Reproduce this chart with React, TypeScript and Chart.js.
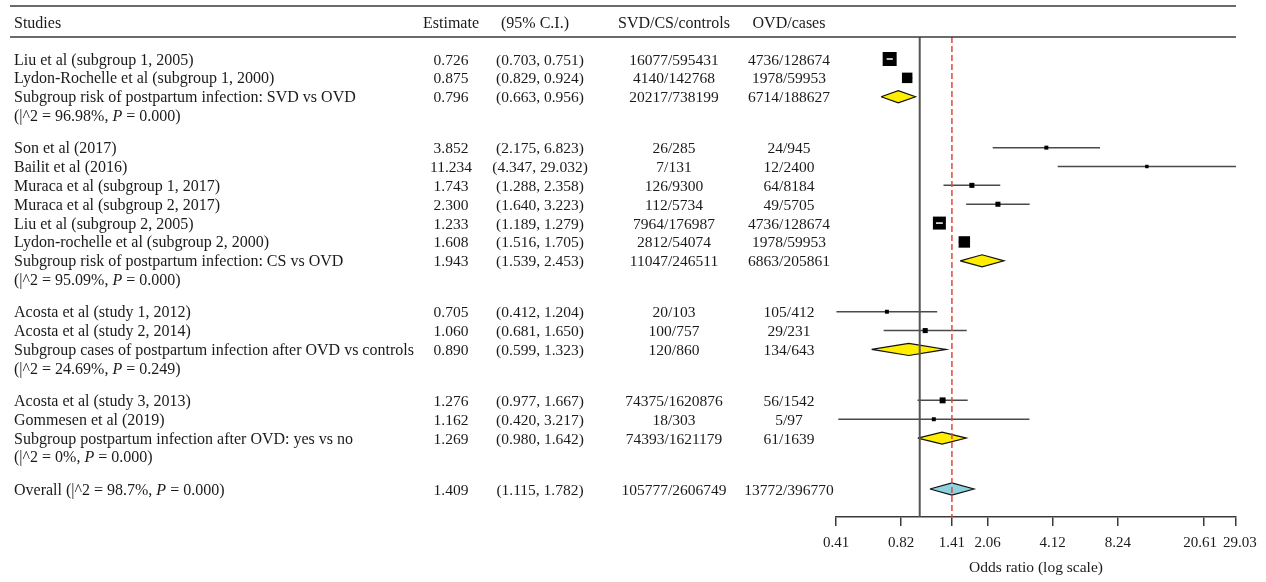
import React, { useEffect, useRef } from 'react';
import { Chart, registerables } from 'chart.js';

Chart.register(...registerables);

// ---------- data ----------
const studyLabels = [
  'Liu et al (subgroup 1, 2005)',
  'Lydon-Rochelle et al (subgroup 1, 2000)',
  'Son et al (2017)',
  'Bailit et al (2016)',
  'Muraca et al (subgroup 1, 2017)',
  'Muraca et al (subgroup 2, 2017)',
  'Liu et al (subgroup 2, 2005)',
  'Lydon-rochelle et al (subgroup 2, 2000)',
  'Acosta et al (study 1, 2012)',
  'Acosta et al (study 2, 2014)',
  'Acosta et al (study 3, 2013)',
  'Gommesen et al (2019)',
];
const studyGroup = [0, 0, 1, 1, 1, 1, 1, 1, 2, 2, 3, 3];
const estimates = [0.726, 0.875, 3.852, 11.234, 1.743, 2.3, 1.233, 1.608, 0.705, 1.06, 1.276, 1.162];
const ciLow = [0.703, 0.829, 2.175, 4.347, 1.288, 1.64, 1.189, 1.516, 0.412, 0.681, 0.977, 0.42];
const ciHigh = [0.751, 0.924, 6.823, 29.032, 2.358, 3.223, 1.279, 1.705, 1.204, 1.65, 1.667, 3.217];
const svdCounts = ['16077/595431', '4140/142768', '26/285', '7/131', '126/9300', '112/5734', '7964/176987', '2812/54074', '20/103', '100/757', '74375/1620876', '18/303'];
const ovdCounts = ['4736/128674', '1978/59953', '24/945', '12/2400', '64/8184', '49/5705', '4736/128674', '1978/59953', '105/412', '29/231', '56/1542', '5/97'];
const boxWeights = [100, 56, 8, 6, 13, 13, 86, 67, 8, 13, 18, 8];

const subgroupLabels = [
  'Subgroup risk of postpartum infection: SVD vs OVD',
  'Subgroup risk of postpartum infection: CS vs OVD',
  'Subgroup cases of postpartum infection after OVD vs controls',
  'Subgroup postpartum infection after OVD: yes vs no',
];
const subgroupEst = [0.796, 1.943, 0.89, 1.269];
const subgroupLow = [0.663, 1.539, 0.599, 0.98];
const subgroupHigh = [0.956, 2.453, 1.323, 1.642];
const subgroupSvd = ['20217/738199', '11047/246511', '120/860', '74393/1621179'];
const subgroupOvd = ['6714/188627', '6863/205861', '134/643', '61/1639'];
const subgroupI2 = ['96.98%', '95.09%', '24.69%', '0%'];
const subgroupP = ['0.000', '0.000', '0.249', '0.000'];

const overallLabel = 'Overall';
const overallEst = 1.409;
const overallLow = 1.115;
const overallHigh = 1.782;
const overallSvd = '105777/2606749';
const overallOvd = '13772/396770';
const overallI2 = '98.7%';
const overallP = '0.000';

const headers = ['Studies', 'Estimate', '(95% C.I.)', 'SVD/CS/controls', 'OVD/cases'];
const tickValues = [0.41, 0.82, 1.41, 2.06, 4.12, 8.24, 20.61, 29.03];
const tickLabels = ['0.41', '0.82', '1.41', '2.06', '4.12', '8.24', '20.61', '29.03'];
const axisTitle = 'Odds ratio (log scale)';

// ---------- style / layout ----------
const FONT = "'Liberation Serif', 'Times New Roman', serif";
const FS_TEXT = 16;
const FS_NUM = 15.5;
const TEXT_COLOR = '#1a1a1a';
const W = 1266;
const H = 582;
const GROUP_GAP = 2.7;
const Y_MIN = -1.1665;
const Y_MAX = 24.284;
const DIAMOND_H = 0.32;
const BOX_SCALE = 1.4;
const COL_LEFT = 14;
const COL_EST = 451;
const COL_CI = 540;
const COL_CI_HEAD = 535;
const COL_SVD = 674;
const COL_OVD = 789;
const EN = '\u2002';

export default function App() {
  const ref = useRef<HTMLCanvasElement>(null);

  useEffect(() => {
    const canvas = ref.current;
    if (!canvas) return;

    // row positions (in row units)
    const studyY: number[] = [];
    const subgroupY: number[] = [];
    let y = 0;
    for (let g = 0; g < subgroupLabels.length; g++) {
      studyGroup.forEach((sg, i) => {
        if (sg === g) {
          studyY[i] = y;
          y += 1;
        }
      });
      subgroupY[g] = y;
      y += GROUP_GAP;
    }
    const overallY = y;

    const ciData: any[] = [];
    estimates.forEach((_, i) => {
      ciData.push({ x: ciLow[i], y: studyY[i] }, { x: ciHigh[i], y: studyY[i] }, { x: ciHigh[i], y: null });
    });

    const diamond = (lo: number, est: number, hi: number, yy: number) => [
      { x: lo, y: yy },
      { x: est, y: yy - DIAMOND_H },
      { x: hi, y: yy },
      { x: est, y: yy + DIAMOND_H },
      { x: lo, y: yy },
    ];

    const boxSide = (w: number) => BOX_SCALE * Math.sqrt(w);

    const datasets: any[] = [
      {
        type: 'line',
        order: 0,
        data: [{ x: 1, y: Y_MIN }, { x: 1, y: Y_MAX }],
        borderColor: '#555555',
        borderWidth: 2,
        pointRadius: 0,
        fill: false,
      },
      {
        type: 'line',
        order: 0,
        data: [{ x: overallEst, y: Y_MIN }, { x: overallEst, y: Y_MAX }],
        borderColor: '#e8453c',
        borderWidth: 1.5,
        borderDash: [6, 3],
        pointRadius: 0,
        fill: false,
      },
      {
        type: 'scatter',
        order: 1,
        data: estimates.map((e, i) => ({ x: e, y: studyY[i] })),
        pointStyle: 'rect',
        pointRadius: boxWeights.map((w) => boxSide(w) / Math.SQRT2),
        pointBackgroundColor: '#000000',
        pointBorderWidth: 0,
        backgroundColor: '#000000',
        borderWidth: 0,
      },
      {
        type: 'line',
        order: 2,
        data: ciData,
        borderColor: '#4a4a4a',
        borderWidth: 1.5,
        pointRadius: 0,
        spanGaps: false,
        fill: false,
      },
      ...subgroupEst.map((e, g) => ({
        type: 'line',
        order: 3,
        data: diamond(subgroupLow[g], e, subgroupHigh[g], subgroupY[g]),
        borderColor: '#111111',
        borderWidth: 1.2,
        backgroundColor: '#ffee00',
        fill: 'shape',
        pointRadius: 0,
      })),
      {
        type: 'line',
        order: 3,
        data: diamond(overallLow, overallEst, overallHigh, overallY),
        borderColor: '#111111',
        borderWidth: 1.2,
        backgroundColor: '#8cd3df',
        fill: 'shape',
        pointRadius: 0,
      },
    ];

    const font = (size: number, italic = false) => `${italic ? 'italic ' : ''}${size}px ${FONT}`;

    const drawParts = (ctx: CanvasRenderingContext2D, parts: [string, boolean][], x: number, yy: number) => {
      let cx = x;
      ctx.textAlign = 'left';
      parts.forEach(([t, it]) => {
        ctx.font = font(FS_TEXT, it);
        ctx.fillText(t, cx, yy);
        cx += ctx.measureText(t).width;
      });
    };

    const tablePlugin = {
      id: 'forestTable',
      afterDatasetsDraw(chart: any) {
        // white CI segments where the CI lies within its box
        const { ctx, scales } = chart;
        const xs = scales.x;
        const ys = scales.y;
        ctx.save();
        ctx.strokeStyle = '#ffffff';
        ctx.lineWidth = 1.5;
        estimates.forEach((e, i) => {
          const cx = xs.getPixelForValue(e);
          const half = boxSide(boxWeights[i]) / 2;
          const lo = xs.getPixelForValue(ciLow[i]);
          const hi = xs.getPixelForValue(ciHigh[i]);
          if (lo >= cx - half + 1 && hi <= cx + half - 1) {
            const py = ys.getPixelForValue(studyY[i]);
            ctx.beginPath();
            ctx.moveTo(lo, py);
            ctx.lineTo(hi, py);
            ctx.stroke();
          }
        });
        ctx.restore();
      },
      afterDraw(chart: any) {
        const { ctx, scales, chartArea } = chart;
        const ys = scales.y;
        ctx.save();
        // header rules
        ctx.strokeStyle = '#3a3a3a';
        ctx.lineWidth = 1.5;
        [6, chartArea.top].forEach((ly: number) => {
          ctx.beginPath();
          ctx.moveTo(10, ly);
          ctx.lineTo(chartArea.right, ly);
          ctx.stroke();
        });
        ctx.fillStyle = TEXT_COLOR;
        ctx.textBaseline = 'alphabetic';
        const hy = 27.5;
        ctx.font = font(FS_TEXT);
        ctx.textAlign = 'left';
        ctx.fillText(headers[0], COL_LEFT, hy);
        ctx.textAlign = 'center';
        ctx.fillText(headers[1], COL_EST, hy);
        ctx.fillText(headers[2], COL_CI_HEAD, hy);
        ctx.fillText(headers[3], COL_SVD, hy);
        ctx.fillText(headers[4], COL_OVD, hy);

        const base = (row: number) => ys.getPixelForValue(row) + 5.5;
        const rowText = (row: number, label: string, est: number, lo: number, hi: number, svd: string, ovd: string) => {
          const by = base(row);
          ctx.font = font(FS_TEXT);
          ctx.textAlign = 'left';
          ctx.fillText(label, COL_LEFT, by);
          ctx.font = font(FS_NUM);
          ctx.textAlign = 'center';
          ctx.fillText(est.toFixed(3), COL_EST, by);
          ctx.fillText(`(${lo.toFixed(3)}, ${hi.toFixed(3)})`, COL_CI, by);
          ctx.fillText(svd, COL_SVD, by);
          ctx.fillText(ovd, COL_OVD, by);
        };
        studyLabels.forEach((l, i) => rowText(studyY[i], l, estimates[i], ciLow[i], ciHigh[i], svdCounts[i], ovdCounts[i]));
        subgroupLabels.forEach((l, g) => {
          rowText(subgroupY[g], l, subgroupEst[g], subgroupLow[g], subgroupHigh[g], subgroupSvd[g], subgroupOvd[g]);
          drawParts(ctx, [[`(|^2 = ${subgroupI2[g]}, `, false], ['P', true], [` = ${subgroupP[g]})`, false]], COL_LEFT, base(subgroupY[g] + 1));
        });
        rowText(overallY, '', overallEst, overallLow, overallHigh, overallSvd, overallOvd);
        drawParts(ctx, [[`${overallLabel} (|^2 = ${overallI2}, `, false], ['P', true], [` = ${overallP})`, false]], COL_LEFT, base(overallY));
        ctx.restore();
      },
    };

    const nTicks = tickLabels.length;
    const chart = new Chart(canvas, {
      type: 'scatter',
      data: { datasets },
      options: {
        responsive: false,
        maintainAspectRatio: false,
        animation: false,
        events: [],
        layout: { padding: { left: 836, right: 30, top: 37, bottom: 0 } },
        plugins: { legend: { display: false }, tooltip: { enabled: false } },
        scales: {
          x: {
            type: 'logarithmic',
            min: tickValues[0],
            max: tickValues[nTicks - 1],
            afterBuildTicks: (scale: any) => {
              scale.ticks = tickValues.map((v) => ({ value: v }));
            },
            afterFit: (scale: any) => {
              scale.height = 65;
            },
            ticks: {
              autoSkip: false,
              maxRotation: 0,
              minRotation: 0,
              padding: 8,
              color: TEXT_COLOR,
              font: { family: FONT, size: 15 },
              // the last two labels sit close together: nudge them apart
              callback: (_v: any, i: number) =>
                i === nTicks - 2 ? tickLabels[i] + EN : i === nTicks - 1 ? EN + tickLabels[i] : tickLabels[i],
            },
            grid: {
              display: true,
              drawOnChartArea: false,
              drawTicks: true,
              tickLength: 9,
              color: '#3a3a3a',
              lineWidth: 1.5,
            },
            border: { display: true, color: '#3a3a3a', width: 1.5 },
            title: {
              display: true,
              text: axisTitle,
              color: TEXT_COLOR,
              font: { family: FONT, size: 15.5 },
              padding: { top: 4, bottom: 5 },
            },
          },
          y: {
            type: 'linear',
            reverse: true,
            min: Y_MIN,
            max: Y_MAX,
            display: false,
          },
        },
      },
      plugins: [tablePlugin],
    } as any);

    return () => chart.destroy();
  }, []);

  return (
    <div style={{ position: 'fixed', left: 0, top: 0, width: W, height: H, background: '#ffffff' }}>
      <canvas ref={ref} width={W} height={H} style={{ display: 'block', width: W, height: H }} />
    </div>
  );
}
